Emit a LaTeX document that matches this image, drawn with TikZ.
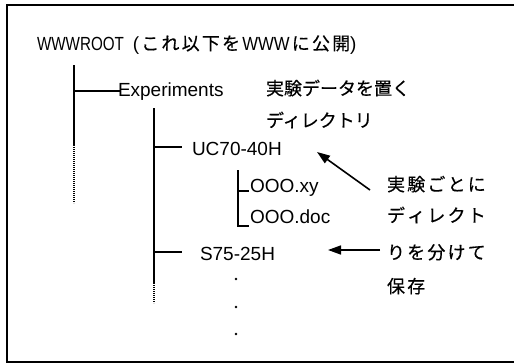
\documentclass[tikz,border=0pt]{standalone}
\usepackage{fontspec}
\setmainfont{Liberation Sans}
\newfontfamily\jpf{Noto Sans CJK JP}[FakeBold=0.4]
\usetikzlibrary{arrows.meta}
\newcommand{\gp}{\hspace{2.2pt}}
\newcommand{\jz}{\fontsize{18}{20}\jpf}
\begin{document}
\begin{tikzpicture}[x=1pt,y=-1pt,
  lbl/.style={inner sep=0pt, outer sep=0pt, anchor=base west, font=\fontsize{19}{21}\selectfont},
  jlbl/.style={inner sep=0pt, outer sep=0pt, anchor=base west, font=\jz},
  frameline/.style={line width=1.6pt},
  treeline/.style={line width=1.8pt},
  branch/.style={line width=1.4pt},
  dotpart/.style={line width=1.8pt, dash pattern=on 0.9pt off 1.1pt},
  pointer/.style={line width=1.6pt, -{Triangle[length=13pt,width=9pt]}},
  dotmark/.style={circle, fill, inner sep=0pt, minimum size=2.8pt}]
\useasboundingbox (0,0) rectangle (514,364);
\fill[white] (0,0) rectangle (514,364);
% frame
\draw[frameline] (515,5) -- (7,5) -- (7,362) -- (515,362);
% texts
\node[lbl] (root) at (37,50) {\scalebox{0.8}[1]{WWWROOT}\hspace{9pt}(\hspace{2pt}{\jz こ\gp れ\gp 以\gp 下\gp を}\gp\scalebox{0.88}[1]{WWW}\gp{\jz に\gp 公\gp 開})};
\node[lbl] (exp) at (118,96) {Experiments};
\node[jlbl] (c1) at (266,95) {実験データを置く};
\node[jlbl] (c2) at (266,127) {ディレクトリ};
\node[lbl] (uc) at (192,155) {UC70-40H};
\node[lbl] (xy) at (250,192) {OOO.xy};
\node[lbl] (doc) at (250,223) {OOO.doc};
\node[lbl] (s75) at (200,260) {S75-25H};
\node[jlbl] (n1) at (387,191) {実\gp 験\gp ご\gp と\gp に};
\node[jlbl] (n2) at (387,222) {デ\gp ィ\gp レ\gp ク\gp ト};
\node[jlbl] (n3) at (387,259) {り\gp を\gp 分\gp け\gp て};
\node[jlbl] (n4) at (387,293) {保\gp 存};
% tree coordinates
\coordinate (v1top) at (74,65);
\coordinate (v1mid) at (74,145);
\coordinate (v1bot) at (74,203);
\coordinate (v1br) at (74,91);
\coordinate (expin) at (120,91);
\coordinate (v2top) at (154,108);
\coordinate (v2mid) at (154,283);
\coordinate (v2bot) at (154,303);
\coordinate (v2a) at (154,147);
\coordinate (ucin) at (182,147);
\coordinate (v2b) at (154,252);
\coordinate (s75in) at (182,252);
\coordinate (brtop) at (238,170);
\coordinate (brxy) at (238,191);
\coordinate (brdoc) at (238,226);
\coordinate (xyin) at (249,191);
\coordinate (docin) at (249,226);
\coordinate (a1tail) at (370,190);
\coordinate (a1tip) at (317,152);
\coordinate (a2tail) at (380,250);
\coordinate (a2tip) at (328,250);
% tree lines
\draw[treeline] (v1top) -- (v1mid);
\draw[dotpart] (v1mid) -- (v1bot);
\draw[branch] (v1br) -- (expin);
\draw[treeline] (v2top) -- (v2mid);
\draw[dotpart] (v2mid) -- (v2bot);
\draw[branch] (v2a) -- (ucin);
\draw[branch] (v2b) -- (s75in);
\draw[branch] (brtop) -- (brdoc) -- (docin);
\draw[branch] (brxy) -- (xyin);
% arrows
\draw[pointer] (a1tail) -- (a1tip);
\draw[pointer] (a2tail) -- (a2tip);
% dots
\node[dotmark] (d1) at (236,279) {};
\node[dotmark] (d2) at (236,307) {};
\node[dotmark] (d3) at (236,334) {};
\end{tikzpicture}
\end{document}
